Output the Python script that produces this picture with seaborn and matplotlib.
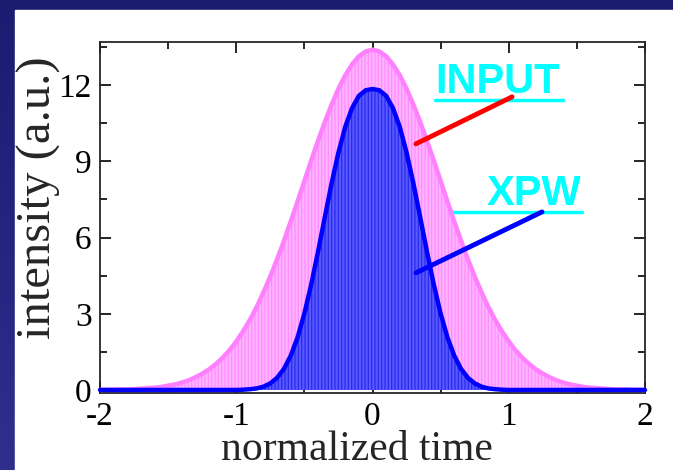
import numpy as np
import pandas as pd
import seaborn as sns
from matplotlib import pyplot as plt
from matplotlib.patches import Rectangle

# normalized time axis, step 0.05
time = np.linspace(-2, 2, 81)

input_pulse = [0.00, 0.01, 0.01, 0.02, 0.02, 0.03, 0.05, 0.07, 0.09, 0.12,
               0.17, 0.22, 0.29, 0.38, 0.50, 0.64, 0.81, 1.02, 1.27, 1.56,
               1.91, 2.31, 2.76, 3.27, 3.85, 4.47, 5.15, 5.87, 6.64, 7.42,
               8.23, 9.03, 9.81, 10.55, 11.24, 11.86, 12.39, 12.82, 13.14, 13.33,
               13.40,
               13.33, 13.14, 12.82, 12.39, 11.86, 11.24, 10.55, 9.81, 9.03, 8.23,
               7.42, 6.64, 5.87, 5.15, 4.47, 3.85, 3.27, 2.76, 2.31, 1.91,
               1.56, 1.27, 1.02, 0.81, 0.64, 0.50, 0.38, 0.29, 0.22, 0.17,
               0.12, 0.09, 0.07, 0.05, 0.03, 0.02, 0.02, 0.01, 0.01, 0.00]

xpw_pulse = [0.00, 0.00, 0.00, 0.00, 0.00, 0.00, 0.00, 0.00, 0.00, 0.00,
             0.00, 0.00, 0.00, 0.00, 0.00, 0.00, 0.00, 0.00, 0.00, 0.00,
             0.00, 0.01, 0.03, 0.06, 0.13, 0.26, 0.48, 0.83, 1.35, 2.07,
             3.01, 4.15, 5.44, 6.80, 8.14, 9.35, 10.36, 11.10, 11.58, 11.80,
             11.85,
             11.80, 11.58, 11.10, 10.36, 9.35, 8.14, 6.80, 5.44, 4.15, 3.01,
             2.07, 1.35, 0.83, 0.48, 0.26, 0.13, 0.06, 0.03, 0.01, 0.00,
             0.00, 0.00, 0.00, 0.00, 0.00, 0.00, 0.00, 0.00, 0.00, 0.00,
             0.00, 0.00, 0.00, 0.00, 0.00, 0.00, 0.00, 0.00, 0.00, 0.00]

xticks = [-2, -1, 0, 1, 2]
yticks = [0, 3, 6, 9, 12]

df = pd.DataFrame({'time': time, 'INPUT': input_pulse, 'XPW': xpw_pulse})

sns.set_style('ticks')
plt.rcParams['font.family'] = ['Liberation Serif', 'DejaVu Serif']
plt.rcParams['hatch.linewidth'] = 0.9

fig = plt.figure(figsize=(6.73, 4.70), dpi=100)

# navy gradient backdrop with white slide panel
bg = fig.add_axes([0, 0, 1, 1], zorder=-10)
grad = np.linspace(0, 1, 256).reshape(-1, 1)
bg.imshow(grad, aspect='auto', extent=[0, 1, 0, 1], origin='upper',
          cmap=sns.blend_palette(['#1b1b70', '#2f2f8e'], as_cmap=True))
bg.add_patch(Rectangle((15 / 673, 0), 1, 1 - 10 / 470, color='white'))
bg.set_xlim(0, 1)
bg.set_ylim(0, 1)
bg.axis('off')

ax = fig.add_axes([100 / 673, 1 - 393 / 470, 545 / 673, 351 / 470])

ax.fill_between(df['time'], df['INPUT'], 0, facecolor='#ffb4ff',
                edgecolor='#ff8cff', hatch='|||||', linewidth=0, zorder=1)
ax.fill_between(df['time'], df['XPW'], 0, facecolor='#5858ff',
                edgecolor='#2c2cee', hatch='|||||', linewidth=0, zorder=2)
sns.lineplot(data=df, x='time', y='INPUT', ax=ax, color='#ff80ff',
             linewidth=3.2, zorder=3)
sns.lineplot(data=df, x='time', y='XPW', ax=ax, color='#0000ff',
             linewidth=3.2, zorder=4, clip_on=False)

ax.set_xlim(-2, 2)
ax.set_ylim(-0.12, 13.7)
ax.set_xticks(xticks)
ax.set_xticklabels(['-2', '-1', '0', '1', '2'])
ax.set_yticks(yticks)
ax.set_xticks(np.arange(-2, 2.01, 0.5), minor=True)
ax.set_yticks(np.arange(0, 13.6, 1.5), minor=True)
ax.tick_params(which='both', direction='in', top=True, right=True,
               labelsize=24, width=1.2, colors='black')
ax.tick_params(which='major', length=8, pad=6)
ax.tick_params(which='minor', length=5)
for s in ax.spines.values():
    s.set_linewidth(1.3)

ax.set_xlabel('normalized time', fontsize=30)
ax.xaxis.set_label_coords(0.472, -0.106)
ax.set_ylabel('intensity (a.u.)', fontsize=35)
ax.yaxis.set_label_coords(-0.072, 0.556)

# labels with pointer lines
label_font = dict(family='Liberation Sans', fontweight='bold', fontsize=30,
                  color='#00ffff')
ax.text(0.459, 11.69, 'INPUT', ha='left', va='baseline', **label_font)
ax.plot([0.459, 1.398], [11.42, 11.42], color='#00ffff', lw=2.5)
ax.plot([0.319, 1.024], [9.69, 11.54], color='#ff0000', lw=3.5, zorder=6)

ax.text(0.84, 7.28, 'XPW', ha='left', va='baseline', **label_font)
ax.plot([0.583, 1.538], [7.01, 7.01], color='#00ffff', lw=2.5)
ax.plot([0.319, 1.244], [4.61, 7.01], color='#0000ff', lw=3.5, zorder=6)

fig.savefig('out.png', dpi=100)
